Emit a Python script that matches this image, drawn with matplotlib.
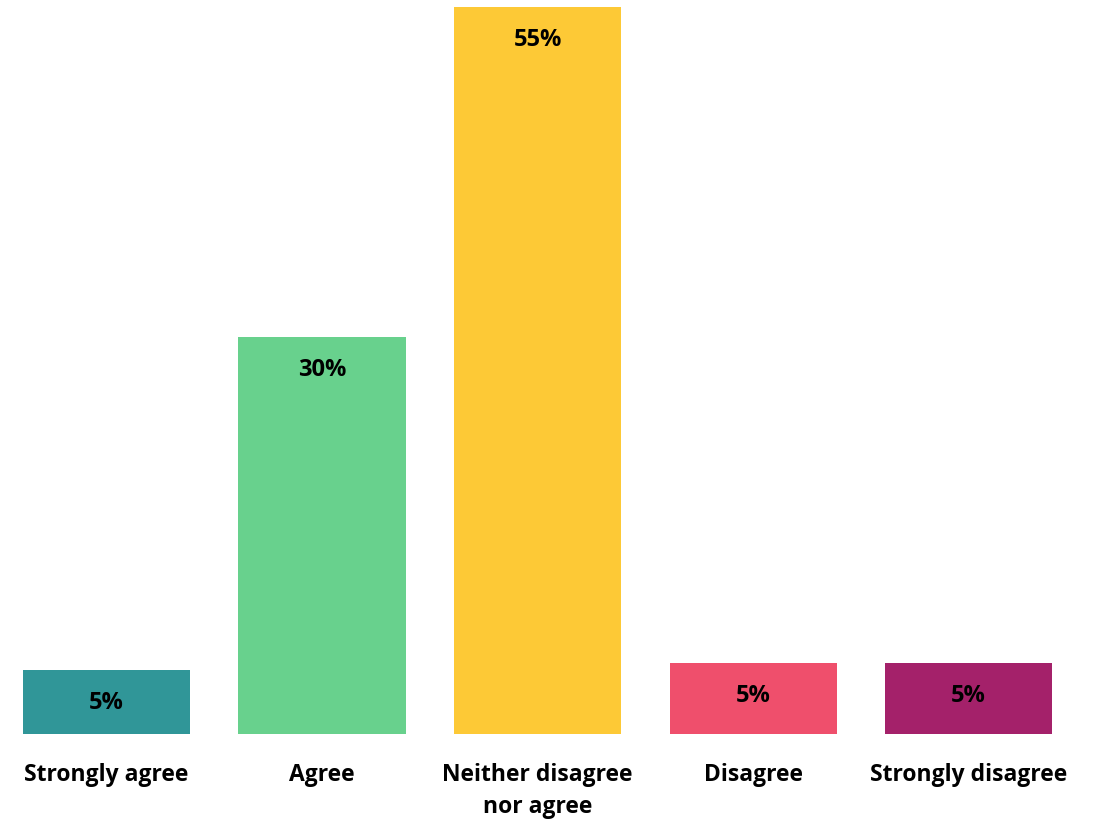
import numpy as np
import matplotlib.pyplot as plt

plt.rcParams['font.family'] = ['Open Sans', 'DejaVu Sans']

categories = ["Strongly agree", "Agree", "Neither disagree\nnor agree", "Disagree", "Strongly disagree"]
values = [4.85, 30, 55, 5.4, 5.4]
labels = ["5%", "30%", "55%", "5%", "5%"]
colors = ["#309698", "#68D18D", "#FDC936", "#EF4F6C", "#A4216A"]

fig = plt.figure(figsize=(10.97, 8.21), dpi=100)
ax = fig.add_axes([0, 87 / 821, 1, 727 / 821])

x = np.arange(len(categories))
bars = ax.bar(x, values, width=0.775, color=colors)

for b, lab in zip(bars, labels):
    ax.annotate(lab, (b.get_x() + b.get_width() / 2, b.get_height()),
                xytext=(0, -33), textcoords="offset pixels",
                ha="center", va="center", fontsize=17, fontweight="bold")

ax.set_xlim(-0.494, 4.596)
ax.set_ylim(0, 55)
ax.set_xticks(x)
ax.set_xticklabels(categories, fontsize=16.5, fontweight="bold", linespacing=1.45)
ax.tick_params(axis="x", length=0, pad=21)
ax.set_yticks([])
for s in ax.spines.values():
    s.set_visible(False)

fig.savefig("out.png", dpi=100)
